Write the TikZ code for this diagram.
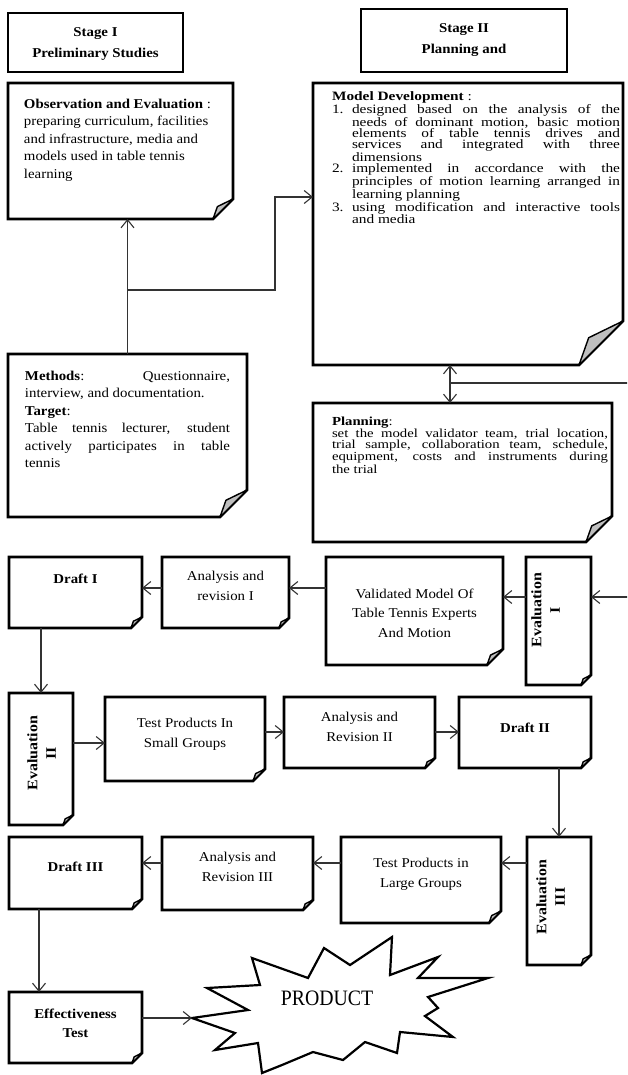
\documentclass[tikz,border=0pt]{standalone}
\usepackage{fontspec}
\setmainfont{Liberation Serif}[FakeStretch=1.1]
\newfontfamily\widefont{Liberation Serif}[FakeStretch=1.2]
\newfontfamily\prodfont{Liberation Serif}[FakeStretch=0.9]
\usepackage{graphicx}
\usetikzlibrary{arrows.meta}
\setlength{\lineskiplimit}{-100pt}
% text block of a box: width, height, top gap, content
\newcommand{\boxbody}[4]{\parbox[c][#2][t]{#1}{\vspace*{#3}#4}}
\newcommand{\evaltext}[1]{\rotatebox{90}{\begin{tabular}{@{}c@{}}\textbf{Evaluation}\\\textbf{#1}\end{tabular}}}

\begin{document}
\begin{tikzpicture}[x=1pt, y=-1pt]

%% ── helpers ───────────────────────────────────────────────
\tikzset{
  note/.style={anchor=north west,inner sep=0pt,outer sep=0pt},
  frame/.style={draw=black,line width=2.6pt,line join=miter},
  flap/.style={fill=gray!50,draw=black,line width=1.4pt,line join=round},
  arr/.style={-{Straight Barb[length=8pt,width=13pt]},line width=1.1pt,black!80},
  dbl/.style={{Straight Barb[length=8pt,width=13pt]}-{Straight Barb[length=8pt,width=13pt]},
              line width=1.1pt,black!80},
  head/.style={font=\fontsize{13.5}{21}\selectfont},
  body/.style={font=\fontsize{13.5}{17.5}\selectfont},
  dense/.style={font=\widefont\fontsize{12.8}{11.3}\selectfont},
  small/.style={font=\fontsize{13.5}{19.5}\selectfont},
  evalfont/.style={font=\fontsize{14.5}{18.5}\selectfont},
  prod/.style={font=\prodfont\fontsize{22}{24}\selectfont,inner sep=0pt},
}

\useasboundingbox (0,0) rectangle (627,1075);
\clip (0,0) rectangle (627,1075);

%% ── STAGE HEADERS ────────────────────────────────────────
\node[note,frame,head] (st1) at (8,13)
  {\boxbody{175pt}{59pt}{14.5pt}{\centering\textbf{Stage I}\\\textbf{Preliminary Studies}}};
\node[note,frame,head] (st2) at (361,9)
  {\boxbody{206pt}{63pt}{14.5pt}{\centering\textbf{Stage II}\\\textbf{Planning and}}};

%% ── STAGE I BOXES ────────────────────────────────────────
\node[note,body] (obs) at (8,83)
  {\boxbody{225pt}{136pt}{16pt}{\leftskip=16pt
   \textbf{Observation and Evaluation} :\\
   preparing curriculum, facilities\\
   and infrastructure, media and\\
   models used in table tennis\\
   learning\par}};

\node[note,body] (meth) at (8,354)
  {\boxbody{239pt}{163pt}{17pt}{\leftskip=17pt \rightskip=17pt
   \textbf{Methods}: Questionnaire,\linebreak
   interview, and documentation.\\
   \textbf{Target}:\\
   Table tennis lecturer, student\linebreak
   actively participates in table\linebreak
   tennis\par}};

%% ── STAGE II BOXES ───────────────────────────────────────
\node[note,dense] (model) at (313,83)
  {\boxbody{310pt}{282pt}{9pt}{\leftskip=19pt \rightskip=3pt
   \textbf{Model Development} :\par
   \hangindent=20pt\hangafter=1\makebox[20pt][l]{1.}designed based on the analysis of the\linebreak
   needs of dominant motion, basic motion\linebreak
   elements of table tennis drives and\linebreak
   services and integrated with three\linebreak
   dimensions\par
   \hangindent=20pt\hangafter=1\makebox[20pt][l]{2.}implemented in accordance with the\linebreak
   principles of motion learning arranged in\linebreak
   learning planning\par
   \hangindent=20pt\hangafter=1\makebox[20pt][l]{3.}using modification and interactive tools\linebreak
   and media\par}};

\node[note,dense,font=\widefont\fontsize{12.3}{11}\selectfont] (plan) at (313,403)
  {\boxbody{299pt}{139pt}{14pt}{\leftskip=19pt \rightskip=4pt
   \textbf{Planning}:\\
   set the model validator team, trial location,\linebreak
   trial sample, collaboration team, schedule,\linebreak
   equipment, costs and instruments during\linebreak
   the trial\par}};

%% ── ROW 1 ────────────────────────────────────────────────
\node[note,small] (draft1) at (9,557)
  {\boxbody{133pt}{71pt}{16.5pt}{\centering\textbf{Draft I}}};
\node[note,small] (ana1) at (162,557)
  {\boxbody{127pt}{71pt}{14.5pt}{\centering Analysis and\\revision I}};
\node[note,small] (valid) at (326,557)
  {\boxbody{177pt}{108pt}{31.5pt}{\centering Validated Model Of\\Table Tennis Experts\\And Motion}};
\node[note,evalfont] (eva1) at (526,557)
  {\boxbody{65pt}{128pt}{15.8pt}{\hspace*{2.5pt}\evaltext{I}}};

%% ── ROW 2 ────────────────────────────────────────────────
\node[note,evalfont] (eva2) at (9,693)
  {\boxbody{64pt}{132pt}{22.8pt}{\hspace*{15.5pt}\evaltext{II}}};
\node[note,small] (test1) at (105,697)
  {\boxbody{160pt}{84pt}{21.5pt}{\centering Test Products In\\Small Groups}};
\node[note,small] (ana2) at (284,697)
  {\boxbody{151pt}{71pt}{15.5pt}{\centering Analysis and\\Revision II}};
\node[note,small] (draft2) at (459,697)
  {\boxbody{132pt}{71pt}{25.5pt}{\centering\textbf{Draft II}}};

%% ── ROW 3 ────────────────────────────────────────────────
\node[note,evalfont] (eva3) at (527,837)
  {\boxbody{64pt}{128pt}{22.8pt}{\hspace*{6.5pt}\evaltext{III}}};
\node[note,small] (large) at (341,837)
  {\boxbody{160pt}{86pt}{21.5pt}{\centering Test Products in\\Large Groups}};
\node[note,small] (ana3) at (162,837)
  {\boxbody{151pt}{73pt}{15.5pt}{\centering Analysis and\\Revision III}};
\node[note,small] (draft3) at (9,837)
  {\boxbody{133pt}{72pt}{24.5pt}{\centering\textbf{Draft III}}};

%% ── FINAL ────────────────────────────────────────────────
\node[note,small] (eff) at (9,992)
  {\boxbody{133pt}{71pt}{16.5pt}{\centering\textbf{Effectiveness}\\\textbf{Test}}};

\draw[frame,line width=2.2pt,line join=miter]
  (192,1018) -- (248,1010) -- (207,988) -- (260,985) -- (252,958)
  -- (308,978) -- (324,948) -- (350,965) -- (392,937) -- (390,975)
  -- (438,957) -- (418,978) -- (488,978) -- (428,997) -- (438,1008)
  -- (425,1016) -- (453,1037) -- (400,1032) -- (397,1053) -- (365,1042)
  -- (343,1060) -- (313,1052) -- (282,1065) -- (262,1073) -- (258,1043)
  -- (215,1050) -- (235,1033) -- cycle;
\coordinate (tip) at (192,1018);
\node[prod] (product) at (327,998) {PRODUCT};

%% ── folded note outlines ──
\foreach \n/\f in {obs/20, model/44, meth/27, plan/26, draft1/11, ana1/10,
                   valid/16, eva1/10, eva2/10, test1/12, ana2/10, draft2/10,
                   eva3/10, large/12, ana3/10, draft3/10, eff/10} {
  \draw[frame] (\n.north west) -- (\n.north east) -- ([yshift=\f]\n.south east)
    -- ([xshift=-\f]\n.south east) -- (\n.south west) -- cycle;
  \filldraw[flap] ([yshift=\f]\n.south east) -- ([xshift=-\f]\n.south east)
    -- ([xshift={-0.78*\f},yshift={0.62*\f}]\n.south east) -- cycle;
}

%% ── connectors: stage I → stage II ──
\draw[arr] (meth.north) -- (meth.north |- obs.south);
\coordinate (split) at (meth.north |- 0,290);
\coordinate (elbow) at (275,197);
\draw[arr] (split) -| (elbow) -- (elbow -| model.west);

\coordinate (tap) at (450,383);
\draw[dbl] (tap |- model.south) -- (tap |- plan.north);
\coordinate (far) at (645,383);
\draw[arr] (tap) -- (far) |- (eva1.east |- 0,597);

%% ── connectors: row 1 ──
\draw[arr] (eva1.west |- 0,597) -- (valid.east |- 0,597);
\draw[arr] (valid.west |- 0,588) -- (ana1.east |- 0,588);
\draw[arr] (ana1.west |- 0,588) -- (draft1.east |- 0,588);
\draw[arr] (eva2.north |- draft1.south) -- (eva2.north);

%% ── connectors: row 2 ──
\draw[arr] (eva2.east |- 0,743) -- (test1.west |- 0,743);
\draw[arr] (test1.east |- 0,732) -- (ana2.west |- 0,732);
\draw[arr] (ana2.east |- 0,732) -- (draft2.west |- 0,732);
\draw[arr] (eva3.north |- draft2.south) -- (eva3.north);

%% ── connectors: row 3 ──
\draw[arr] (eva3.west |- 0,863) -- (large.east |- 0,863);
\draw[arr] (large.west |- 0,863) -- (ana3.east |- 0,863);
\draw[arr] (ana3.west |- 0,863) -- (draft3.east |- 0,863);
\draw[arr] ([xshift=30]draft3.south west) -- ([xshift=30]eff.north west);
\draw[arr] (eff.east |- tip) -- (tip);

\end{tikzpicture}
\end{document}
